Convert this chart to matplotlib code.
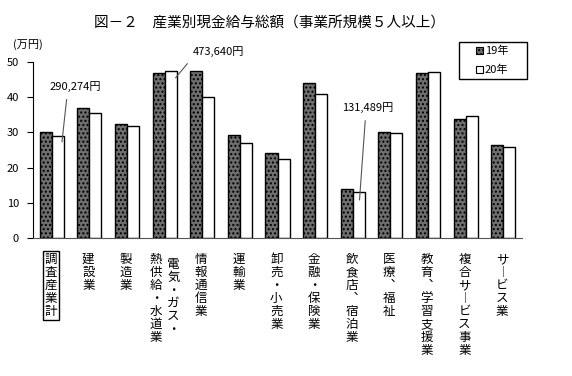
import numpy as np
import matplotlib
matplotlib.use("Agg")
import matplotlib.pyplot as plt
from matplotlib.patches import Patch, Rectangle
import matplotlib.transforms as mtransforms

plt.rcParams['font.family'] = ['Noto Sans CJK JP', 'DejaVu Sans']

# data (万円)
industries = ["調査産業計", "建設業", "製造業", "電気・ガス・熱供給・水道業", "情報通信業",
              "運輸業", "卸売・小売業", "金融・保険業", "飲食店、宿泊業", "医療、福祉",
              "教育、学習支援業", "複合サービス事業", "サービス業"]
vals_19 = [30.0, 36.8, 32.3, 46.9, 47.4, 29.3, 24.1, 43.9, 13.8, 30.0, 47.0, 33.8, 26.4]
vals_20 = [29.0, 35.4, 31.8, 47.4, 40.0, 26.9, 22.4, 40.8, 13.1, 29.7, 47.2, 34.7, 25.8]
series_names = ["19年", "20年"]
yticks = [0, 10, 20, 30, 40, 50]

# turn a label into a vertical column of characters
def vert(s):
    s = s.replace("、", "︑").replace("ー", "︱")
    return "\n".join(list(s))

W, H = 572, 376
fig = plt.figure(figsize=(W / 100, H / 100), dpi=100)
ax = fig.add_axes([33 / W, 1 - 238 / H, (522 - 33) / W, 176 / H])

x = np.arange(len(industries))
bw = 0.32
ax.bar(x - bw / 2, vals_19, bw, facecolor="#6e6e6e", edgecolor="black", linewidth=1.0,
       hatch="....")
ax.bar(x + bw / 2, vals_20, bw, facecolor="white", edgecolor="black", linewidth=1.0)

ax.set_xlim(-0.5, len(industries) - 0.5)
ax.set_ylim(0, 50)
ax.set_yticks(yticks)
ax.tick_params(axis="y", direction="out", length=4, labelsize=8, pad=6)
ax.tick_params(axis="x", length=0, labelbottom=False)
ax.spines["top"].set_visible(False)
ax.spines["right"].set_visible(False)
ax.spines["bottom"].set_color("#555555")

# x labels as vertical text
trans = mtransforms.blended_transform_factory(ax.transData, ax.transAxes)
for i, name in enumerate(industries):
    if i == 3:
        ax.text(i + 0.23, -0.115, vert("電気・ガス・"), transform=trans, ha="center",
                va="top", fontsize=9, linespacing=1.0)
        ax.text(i - 0.23, -0.085, vert("熱供給・水道業"), transform=trans, ha="center",
                va="top", fontsize=9, linespacing=1.0)
        continue
    kw = {}
    if i == 0:
        kw["bbox"] = dict(boxstyle="square,pad=0.15", facecolor="white", edgecolor="black",
                          linewidth=1.0)
    ax.text(i - 0.03, -0.085, vert(name), transform=trans, ha="center", va="top",
            fontsize=9, linespacing=1.0, **kw)

# value callouts
def callout(txt, xy, xytext, rel):
    ax.annotate(txt, xy=xy, xytext=xytext, fontsize=8, ha="left", va="bottom",
                annotation_clip=False,
                arrowprops=dict(arrowstyle="-", color="#555555", linewidth=0.8,
                                shrinkA=3.5, shrinkB=0, relpos=(rel, 0)))

callout("290,274円", (0.27, 27.3), (-0.05, 41.5), 0.34)
callout("473,640円", (3.29, 45.5), (3.75, 51.4), 0.0)
callout("131,489円", (8.18, 10.8), (7.72, 35.5), 0.46)

fig.text(270 / W, 1 - 24 / H, "図－２　産業別現金給与総額（事業所規模５人以上）",
         ha="center", va="center", fontsize=10.5)
fig.text(13 / W, 1 - 45 / H, "(万円)", ha="left", va="center", fontsize=8)

# legend with a fixed frame
fig.add_artist(Rectangle((459 / W, 1 - 79 / H), 68 / W, 37 / H, transform=fig.transFigure,
                         fill=False, edgecolor="black", linewidth=1.0))
handles = [Patch(facecolor="#6e6e6e", edgecolor="black", hatch="....", linewidth=0.8),
           Patch(facecolor="white", edgecolor="black", linewidth=0.8)]
fig.legend(handles, series_names, loc="upper left",
           bbox_to_anchor=(476 / W, 1 - 46 / H), fontsize=8, frameon=False,
           handlelength=0.6, handleheight=0.6, handletextpad=0.2, borderpad=0,
           labelspacing=0.75, borderaxespad=0)

fig.savefig("out.png", dpi=100)
